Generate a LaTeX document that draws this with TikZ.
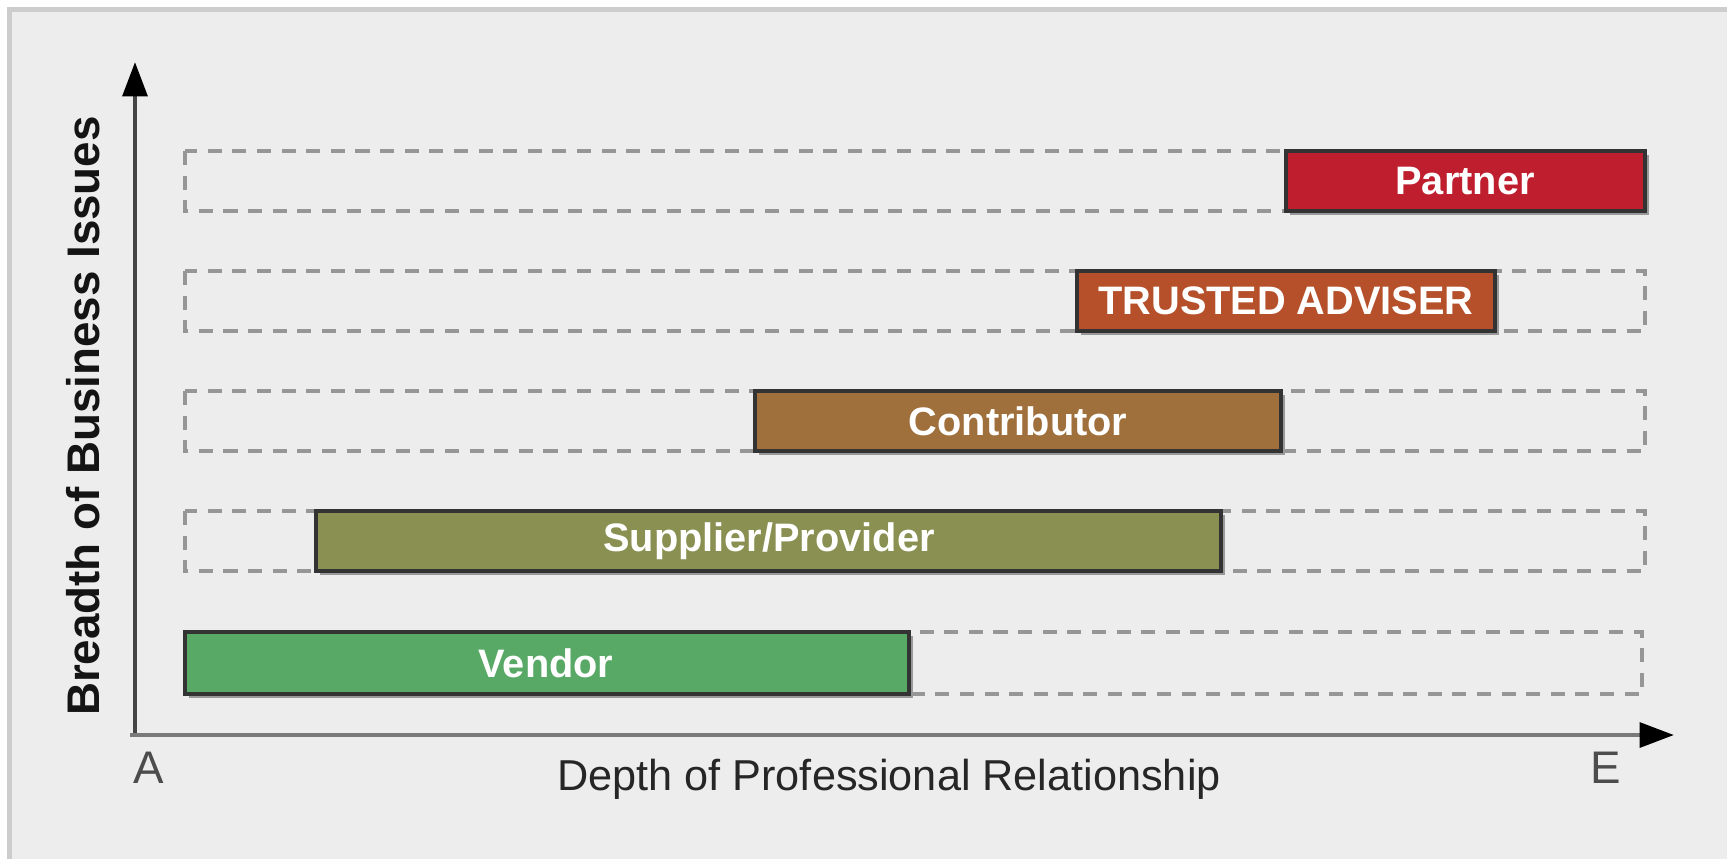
\documentclass[tikz,border=0pt]{standalone}
\usepackage{fontspec}
\setmainfont{Liberation Sans}
\usetikzlibrary{arrows.meta,shadows}

\definecolor{partnerred}{HTML}{BE1E2D}
\definecolor{adviserorange}{HTML}{B5502A}
\definecolor{contribbrown}{HTML}{A0703C}
\definecolor{supplierolive}{HTML}{8A8F52}
\definecolor{vendorgreen}{HTML}{58A866}
\definecolor{panelgray}{HTML}{EDEDED}
\definecolor{framegray}{HTML}{CDCDCD}
\definecolor{trackgray}{HTML}{969696}
\definecolor{barline}{HTML}{333333}

\tikzset{
    track/.style={draw=trackgray, line width=1.2pt, dash pattern=on 4pt off 3pt},
    bar/.style={draw=barline, line width=1.2pt,
        drop shadow={shadow xshift=1.1pt, shadow yshift=-1.1pt, fill=black!40, opacity=1}},
    barlabel/.style={text=white, font=\bfseries\fontsize{11.3}{13}\selectfont},
    axis/.style={line width=1.3pt, -{Triangle[length=9.8pt, width=7pt, color=black]}}
}

\begin{document}
\begin{tikzpicture}[x=0.01cm, y=-0.01cm]
    % panel with its grey frame on top and left
    \fill[white] (0,0) rectangle (1727,859);
    \fill[framegray] (7,7) rectangle (1727,859);
    \fill[panelgray] (12,12) rectangle (1727,859);
    \useasboundingbox (0,0) rectangle (1727,859);

    % dashed tracks, one per level
    \draw[track] (185,151) rectangle (1645,211);
    \draw[track] (185,271) rectangle (1645,331);
    \draw[track] (185,391) rectangle (1645,451);
    \draw[track] (185,511) rectangle (1645,571);
    \draw[track] (185,632) rectangle (1642,694);

    % filled bars
    \draw[bar, fill=partnerred] (1286,151) rectangle (1645,211);
    \draw[bar, fill=adviserorange] (1077,271) rectangle (1495,331);
    \draw[bar, fill=contribbrown] (755,391) rectangle (1281,451);
    \draw[bar, fill=supplierolive] (316,511) rectangle (1221,571);
    \draw[bar, fill=vendorgreen] (185,632) rectangle (909,694);

    \node (partner) [barlabel] at (1465,181) {Partner};
    \node (adviser) [barlabel] at (1286,301) {TRUSTED ADVISER};
    \node (contributor) [barlabel] at (1018,421) {Contributor};
    \node (supplier) [barlabel] at (769,541) {Supplier/Provider};
    \node (vendor) [barlabel] at (546,663) {Vendor};

    % axes
    \coordinate (origin) at (135,735);
    \coordinate (xstart) at (130,735);
    \coordinate (ytip) at (135,62);
    \coordinate (xtip) at (1674,735);
    \draw[axis, draw=black!73] (origin) -- (ytip);
    \draw[axis, draw=black!52] (xstart) -- (xtip);

    \node (ylabel) [rotate=90, font=\bfseries\fontsize{13}{15}\selectfont, text=black!92] at (83,416) {Breadth of Business Issues};
    \node (xlabel) [font=\fontsize{12.3}{14}\selectfont, text=black!85] at (889,779) {Depth of Professional Relationship};
    \node (alabel) [font=\fontsize{13}{15}\selectfont, text=black!70] at (149,768) {A};
    \node (elabel) [font=\fontsize{13}{15}\selectfont, text=black!70] at (1606,768) {E};
\end{tikzpicture}
\end{document}
